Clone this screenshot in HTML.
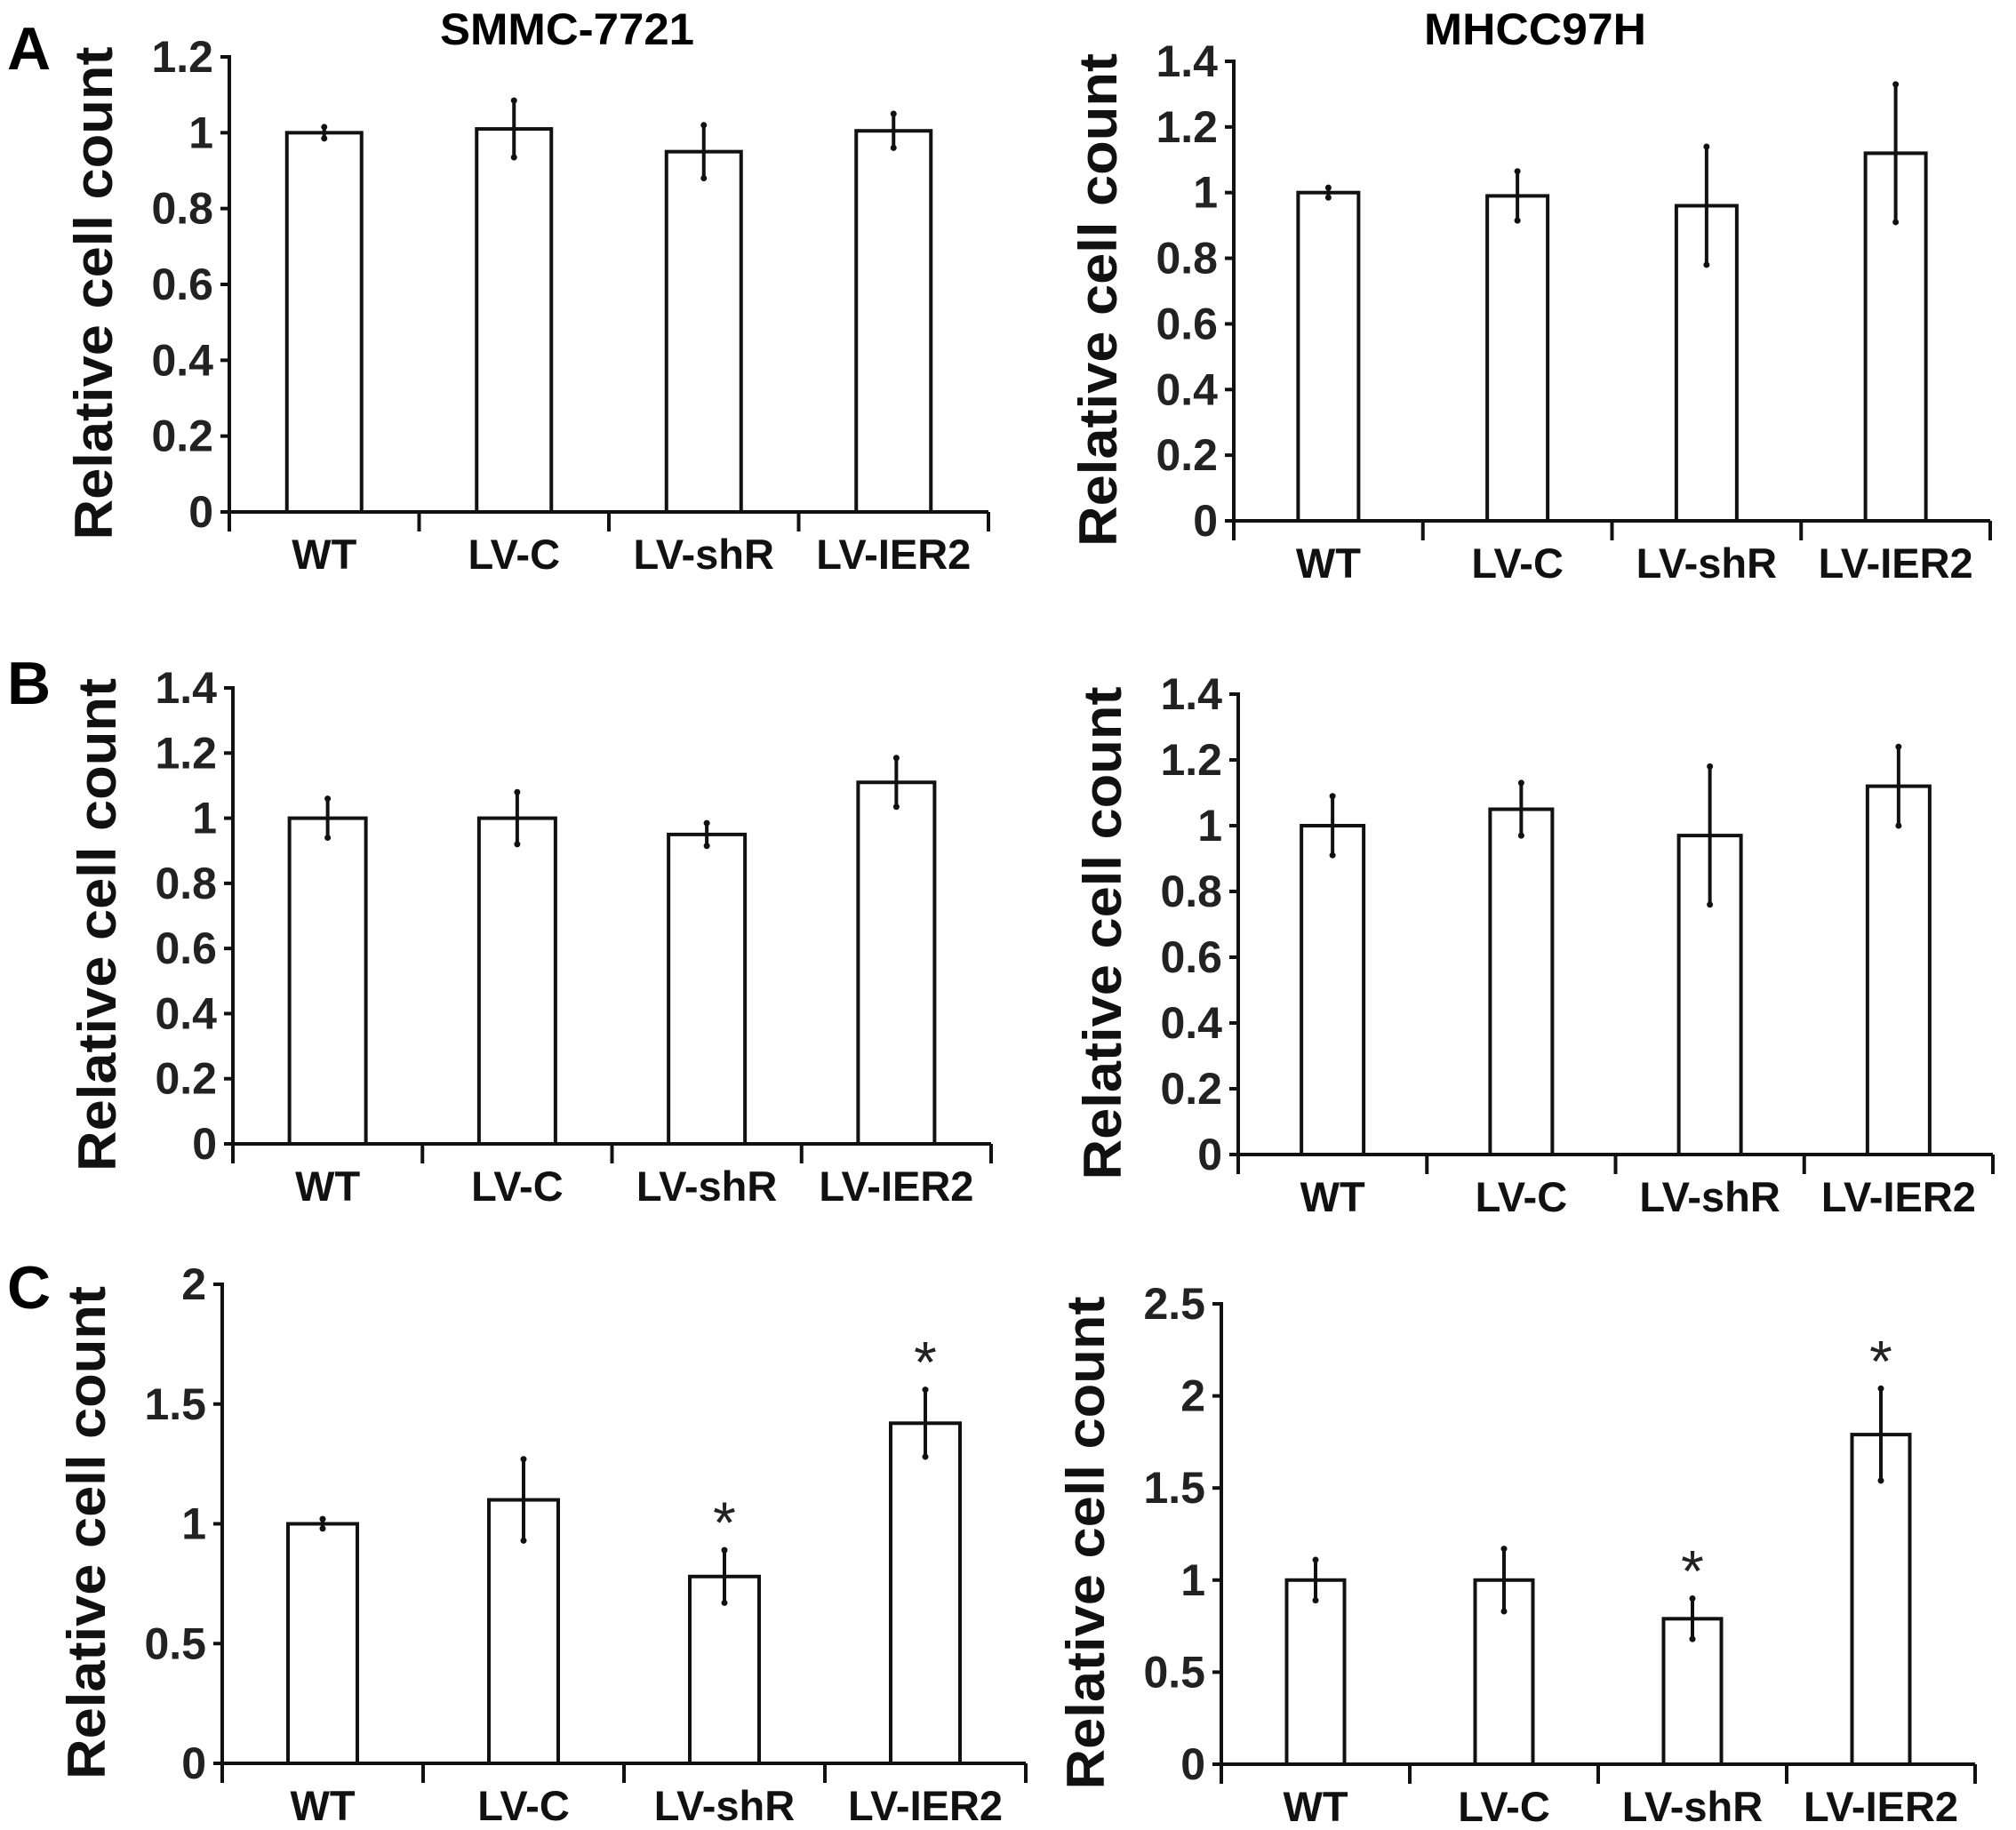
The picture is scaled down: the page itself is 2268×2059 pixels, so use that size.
<!DOCTYPE html>
<html><head><meta charset="utf-8"><style>
html,body{margin:0;padding:0;background:#fff;}
svg{display:block;font-family:"Liberation Sans",Arial,sans-serif;}
</style></head><body>
<svg id="fig" width="2268" height="2059" viewBox="0 0 2268 2059" xmlns="http://www.w3.org/2000/svg">
<rect width="2268" height="2059" fill="#fff"/>
<text x="8" y="78" font-size="68" font-weight="bold">A</text>
<text x="8" y="792" font-size="68" font-weight="bold">B</text>
<text x="8" y="1472" font-size="68" font-weight="bold">C</text>
<text x="638" y="50" font-size="50" font-weight="bold" text-anchor="middle" textLength="286" lengthAdjust="spacingAndGlyphs">SMMC-7721</text>
<text x="1727" y="50" font-size="50" font-weight="bold" text-anchor="middle" textLength="250" lengthAdjust="spacingAndGlyphs">MHCC97H</text>
</svg>
<script>
const categories = ["WT","LV-C","LV-shR","LV-IER2"];
const aLeftValues = [1.0, 1.01, 0.95, 1.005];
const aLeftErrors = [0.015, 0.075, 0.07, 0.045];
const aRightValues = [1.0, 0.99, 0.96, 1.12];
const aRightErrors = [0.015, 0.075, 0.18, 0.21];
const bLeftValues = [1.0, 1.0, 0.95, 1.11];
const bLeftErrors = [0.06, 0.08, 0.035, 0.075];
const bRightValues = [1.0, 1.05, 0.97, 1.12];
const bRightErrors = [0.09, 0.08, 0.21, 0.12];
const cLeftValues = [1.0, 1.1, 0.78, 1.42];
const cLeftErrors = [0.02, 0.17, 0.11, 0.14];
const cLeftStars = [false, false, true, true];
const cRightValues = [1.0, 1.0, 0.79, 1.79];
const cRightErrors = [0.11, 0.17, 0.11, 0.25];
const cRightStars = [false, false, true, true];
const ticks12 = ["0","0.2","0.4","0.6","0.8","1","1.2"];
const ticks14 = ["0","0.2","0.4","0.6","0.8","1","1.2","1.4"];
const ticks20 = ["0","0.5","1","1.5","2"];
const ticks25 = ["0","0.5","1","1.5","2","2.5"];

const NS = "http://www.w3.org/2000/svg";
const svg = document.getElementById("fig");
function mk(tag, attrs, parent){
  const e = document.createElementNS(NS, tag);
  for (const k in attrs) e.setAttribute(k, attrs[k]);
  (parent||svg).appendChild(e);
  return e;
}
function panel(name, L, values, errors, ticks, stars){
  const g = mk("g", {});
  
  
  const yMax = parseFloat(ticks[ticks.length-1]);
  const y = v => L.zero - (v / yMax) * (L.zero - L.top);
  const catW = (L.end - L.ax) / categories.length;
  const x = i => L.ax + (i + 0.5) * catW;
  ticks.forEach(t => {
    const ty = y(parseFloat(t));
    const tk = mk("line", {x1:L.ax-10, x2:L.ax, y1:ty, y2:ty, stroke:"#111", "stroke-width":4}, g);
    
    
    const tl = mk("text", {x:L.ax-18, y:ty+17, "font-size":50, "font-weight":"bold", "text-anchor":"end", fill:"#222"}, g);
    tl.textContent = t;
    
    
  });
  values.forEach((v, i) => {
    const cx = x(i);
    const b = mk("rect", {x:cx-L.bw/2, y:y(v), width:L.bw, height:L.zero-y(v), fill:"#fff", stroke:"#111", "stroke-width":4}, g);
    
    
    const e1 = y(v + errors[i]), e2 = y(v - errors[i]);
    const eb = mk("line", {x1:cx, x2:cx, y1:e1, y2:e2, stroke:"#111", "stroke-width":4}, g);
    
    
    mk("circle", {cx:cx, cy:e1, r:3.5, fill:"#111"}, g);
    mk("circle", {cx:cx, cy:e2, r:3.5, fill:"#111"}, g);
    if (stars && stars[i]) {
      const s = mk("text", {x:cx, y:e1-8, "font-size":66, "text-anchor":"middle", fill:"#222"}, g);
      s.textContent = "*";
      
      
    }
    const cl = mk("text", {x:cx, y:L.zero+64, "font-size":47, "font-weight":"bold", "text-anchor":"middle", fill:"#111"}, g);
    cl.textContent = categories[i];
    
    
  });
  const ya = mk("line", {x1:L.ax, x2:L.ax, y1:L.top-2, y2:L.zero+22, stroke:"#111", "stroke-width":4}, g);
  
  
  const xa = mk("line", {x1:L.ax, x2:L.end, y1:L.zero, y2:L.zero, stroke:"#111", "stroke-width":4}, g);
  
  
  for (let i = 1; i <= categories.length; i++) {
    const xt = L.ax + i * catW;
    const t = mk("line", {x1:xt, x2:xt, y1:L.zero, y2:L.zero+22, stroke:"#111", "stroke-width":4}, g);
    
    
  }
  const ty = (L.top + L.zero) / 2 + 10, tx = L.ax - 132;
  const at = mk("text", {x:tx, y:ty, "font-size":60, "font-weight":"bold", "text-anchor":"middle", transform:`rotate(-90 ${tx} ${ty})`, textLength:555, lengthAdjust:"spacingAndGlyphs", fill:"#111"}, g);
  at.textContent = "Relative cell count";
  
  
}
panel("chart-a-smmc", {ax:258, top:64, zero:576, end:1112, bw:84}, aLeftValues, aLeftErrors, ticks12);
panel("chart-a-mhcc", {ax:1388, top:69, zero:586, end:2239, bw:68}, aRightValues, aRightErrors, ticks14);
panel("chart-b-smmc", {ax:262, top:774, zero:1287, end:1115, bw:86}, bLeftValues, bLeftErrors, ticks14);
panel("chart-b-mhcc", {ax:1393, top:781, zero:1299, end:2242, bw:70}, bRightValues, bRightErrors, ticks14);
panel("chart-c-smmc", {ax:250, top:1445, zero:1984, end:1154, bw:78}, cLeftValues, cLeftErrors, ticks20, cLeftStars);
panel("chart-c-mhcc", {ax:1374, top:1467, zero:1985, end:2222, bw:65}, cRightValues, cRightErrors, ticks25, cRightStars);
</script>
</body></html>
